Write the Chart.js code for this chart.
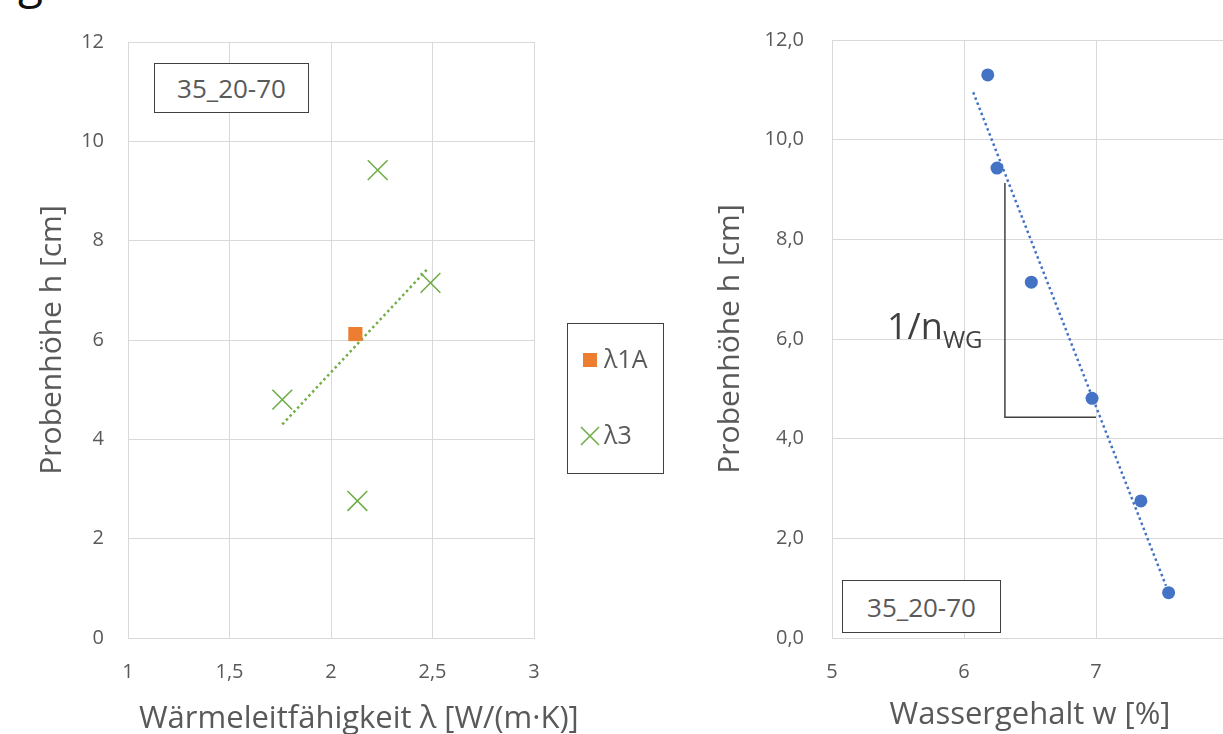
<!DOCTYPE html>
<html>
<head>
<meta charset="utf-8">
<script src="https://cdn.jsdelivr.net/npm/chart.js@4.4.0/dist/chart.umd.min.js"></script>
<style>
  html, body { margin: 0; padding: 0; background: #fff; }
  body { width: 1223px; height: 734px; position: relative; overflow: hidden; font-family: "Open Sans", sans-serif; }
  canvas { position: absolute; top: 0; }
  #c1 { left: 0; }
  #c2 { left: 690px; }
  .txt { position: absolute; color: #595959; white-space: nowrap; }
  .box { position: absolute; border: 1.5px solid #404040; box-sizing: border-box; color: #595959; font-size: 26px; display: flex; align-items: center; justify-content: center; background: #fff; }
</style>
</head>
<body>
<div class="txt" style="left:18px; top:-50px; height:60px; line-height:60px; font-size:46px; color:#111;">g erfasst werden.</div>
<canvas id="c1" width="700" height="734"></canvas>
<canvas id="c2" width="600" height="734"></canvas>
<div class="txt" id="xt1" style="left:139px; top:695px; font-size:31px;">Wärmeleitfähigkeit λ [W/(m·K)]</div>
<div class="box" style="left:154px; top:63px; width:155px; height:50px;">35_20-70</div>
<div class="box" style="left:842px; top:580px; width:159px; height:53px;">35_20-70</div>
<div class="txt" style="left:887px; top:301px; font-size:36px; color:#404040;">1/n<span style="font-size:24px; position:relative; top:9px;">WG</span></div>
<script>
// linkes Diagramm: Wärmeleitfähigkeit
const lam1aX = [2.12];
const lam1aY = [6.12];
const lam3X = [2.23, 2.49, 1.76, 2.13];
const lam3Y = [9.42, 7.15, 4.80, 2.76];
const lam3TrendX = [1.76, 2.48];
const lam3TrendY = [4.30, 7.45];
const lamTicksX = [1, 1.5, 2, 2.5, 3];

// rechtes Diagramm: Wassergehalt
const wX = [6.18, 6.25, 6.51, 6.97, 7.34, 7.55];
const wY = [11.30, 9.43, 7.14, 4.81, 2.75, 0.91];
const wTrendX = [6.07, 7.53];
const wTrendY = [10.95, 1.05];
const slopeX = [6.31, 6.31, 7.0];
const slopeY = [9.13, 4.43, 4.43];

const grey = '#595959';
const gridCol = '#d9d9d9';
const tickFont = { family: 'Open Sans', size: 20 };
const titleFont = { family: 'Open Sans', size: 30 };

function pts(xs, ys) {
  return xs.map((x, i) => ({ x: x, y: ys[i] }));
}
function comma(v) {
  return String(v).replace('.', ',');
}

// Legende im Kasten rechts vom linken Diagramm
const boxLegend = {
  id: 'boxLegend',
  afterDraw(chart) {
    const ctx = chart.ctx;
    ctx.save();
    ctx.strokeStyle = '#404040';
    ctx.lineWidth = 1;
    ctx.strokeRect(567.5, 323.5, 96, 150);
    const items = chart.data.datasets.filter(d => d.inLegend);
    items.forEach((d, i) => {
      const y = 360 + i * 76;
      ctx.fillStyle = d.backgroundColor;
      ctx.strokeStyle = d.borderColor;
      ctx.lineWidth = d.borderWidth;
      ctx.beginPath();
      if (d.pointStyle === 'rect') {
        ctx.fillRect(583, y - 7, 14, 14);
      } else {
        ctx.moveTo(581, y - 9); ctx.lineTo(599, y + 9);
        ctx.moveTo(599, y - 9); ctx.lineTo(581, y + 9);
        ctx.stroke();
      }
      ctx.fillStyle = grey;
      ctx.font = '25px "Open Sans"';
      ctx.textBaseline = 'middle';
      ctx.fillText(d.label, 604, y + 1);
    });
    ctx.restore();
  }
};

new Chart(document.getElementById('c1'), {
  type: 'scatter',
  data: {
    datasets: [{
      label: 'λ1A',
      inLegend: true,
      data: pts(lam1aX, lam1aY),
      pointStyle: 'rect',
      pointRadius: 10,
      backgroundColor: '#ED7D31',
      borderColor: '#ED7D31',
      borderWidth: 0
    }, {
      label: 'λ3',
      inLegend: true,
      data: pts(lam3X, lam3Y),
      pointStyle: 'crossRot',
      pointRadius: 14,
      backgroundColor: '#70AD47',
      borderColor: '#70AD47',
      borderWidth: 1.6
    }, {
      label: 'Trend λ3',
      data: pts(lam3TrendX, lam3TrendY),
      showLine: true,
      pointRadius: 0,
      borderColor: '#70AD47',
      borderWidth: 2.5,
      borderDash: [2.5, 3]
    }]
  },
  options: {
    responsive: false,
    animation: false,
    layout: { padding: { top: 42, right: 166, left: 0, bottom: 0 } },
    plugins: { legend: { display: false }, tooltip: { enabled: false } },
    scales: {
      x: {
        min: 1, max: 3,
        afterBuildTicks: s => { s.ticks = lamTicksX.map(v => ({ value: v })); },
        afterFit: s => { s.height = 96; },
        ticks: { color: grey, font: tickFont, padding: 22, callback: v => comma(v) },
        grid: { color: gridCol, drawTicks: false },
        border: { color: gridCol }
      },
      y: {
        min: 0, max: 12,
        ticks: { stepSize: 2, color: grey, font: tickFont, padding: 24 },
        afterFit: s => { s.width = 128; },
        grid: { color: gridCol, drawTicks: false },
        border: { color: gridCol },
        title: { display: true, text: 'Probenhöhe h [cm]', color: grey, font: titleFont, padding: { top: 34, bottom: 0 } }
      }
    }
  },
  plugins: [boxLegend]
});

new Chart(document.getElementById('c2'), {
  type: 'scatter',
  data: {
    datasets: [{
      label: 'Probenhöhe',
      data: pts(wX, wY),
      pointRadius: 6.5,
      backgroundColor: '#4472C4',
      borderColor: '#4472C4',
      borderWidth: 0
    }, {
      label: 'Trend',
      data: pts(wTrendX, wTrendY),
      showLine: true,
      pointRadius: 0,
      borderColor: '#4472C4',
      borderWidth: 2.5,
      borderDash: [2.5, 3]
    }, {
      label: 'Steigung',
      data: pts(slopeX, slopeY),
      showLine: true,
      pointRadius: 0,
      borderColor: '#404040',
      borderWidth: 1.5
    }]
  },
  options: {
    responsive: false,
    animation: false,
    layout: { padding: { top: 40, right: 62, left: 0, bottom: 0 } },
    plugins: { legend: { display: false }, tooltip: { enabled: false } },
    scales: {
      x: {
        min: 5, max: 8,
        ticks: { stepSize: 1, color: grey, font: tickFont, padding: 22 },
        afterFit: s => { s.height = 96; },
        grid: { color: gridCol, drawTicks: false },
        border: { color: gridCol },
        title: { display: true, text: 'Wassergehalt w [%]', color: grey, font: { family: 'Open Sans', size: 31 }, padding: { top: 0, bottom: 0 } }
      },
      y: {
        min: 0, max: 12,
        ticks: { stepSize: 2, color: grey, font: tickFont, padding: 28, callback: v => comma(v.toFixed(1)) },
        afterFit: s => { s.width = 142; },
        grid: { color: gridCol, drawTicks: false },
        border: { color: gridCol },
        title: { display: true, text: 'Probenhöhe h [cm]', color: grey, font: titleFont, padding: { top: 22, bottom: 0 } }
      }
    }
  }
});
</script>
</body>
</html>
